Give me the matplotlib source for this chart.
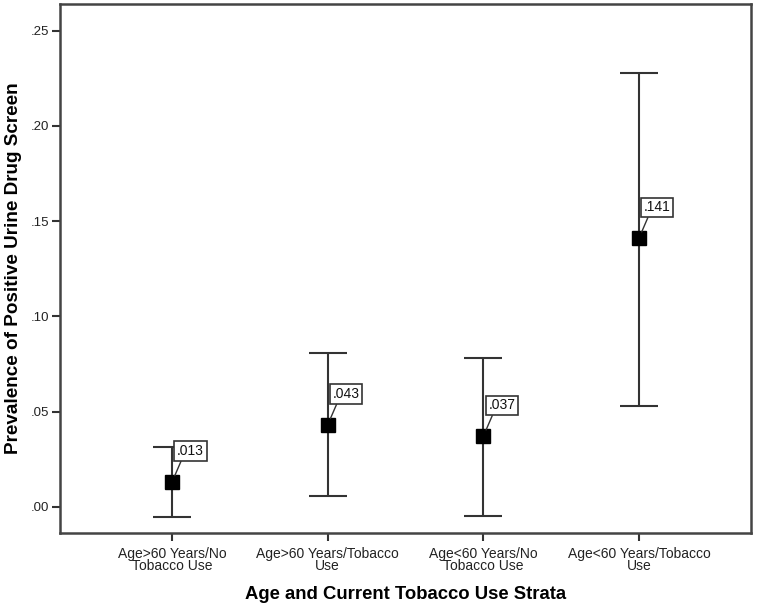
import numpy as np
import matplotlib
matplotlib.use("Agg")
import matplotlib.pyplot as plt

plt.rcParams['font.family'] = ['Liberation Sans', 'DejaVu Sans']

# strata, prevalence and 95% CI
strata = ["Age>60 Years/No\nTobacco Use", "Age>60 Years/Tobacco\nUse",
          "Age<60 Years/No\nTobacco Use", "Age<60 Years/Tobacco\nUse"]
prevalence = [0.013, 0.043, 0.037, 0.141]
ci_low = [-0.0054, 0.0055, -0.0050, 0.0529]
ci_high = [0.0314, 0.0806, 0.0780, 0.2280]
labels = [".013", ".043", ".037", ".141"]
yticks = [0.00, 0.05, 0.10, 0.15, 0.20, 0.25]
ytick_labels = [".00", ".05", ".10", ".15", ".20", ".25"]

W, H = 757, 607
fig = plt.figure(figsize=(W / 100, H / 100), dpi=100)
ax = fig.add_axes([60 / W, (H - 533) / H, (751 - 60) / W, (533 - 4.3) / H])

x = np.arange(len(strata))
prevalence = np.array(prevalence)
yerr = [prevalence - np.array(ci_low), np.array(ci_high) - prevalence]

line_col = "#333333"
ax.errorbar(x, prevalence, yerr=yerr, fmt='none', ecolor=line_col,
            elinewidth=1.5, capsize=14, capthick=1.5, zorder=2)
ax.plot(x, prevalence, 's', color='black', markersize=9.5, zorder=3)

for xi, yi, lab in zip(x, prevalence, labels):
    ax.annotate(lab, xy=(xi, yi), xytext=(5, 24), textcoords='offset pixels',
                ha='left', va='bottom', fontsize=10, color='#111111',
                bbox=dict(boxstyle='square,pad=0.2', fc='white', ec=line_col, lw=1.2),
                arrowprops=dict(arrowstyle='-', color=line_col, lw=1.0,
                                relpos=(0.2, 0.0), shrinkA=0, shrinkB=5),
                zorder=4)

ax.set_xlim(-0.72, 3.72)
ax.set_ylim(-0.0138, 0.2639)
ax.set_xticks(x)
ax.set_xticklabels(strata, fontsize=10, linespacing=0.85, color='#222222')
ax.set_yticks(yticks)
ax.set_yticklabels(ytick_labels, fontsize=9.5, color='#222222')
ax.tick_params(axis='x', length=6, width=1.5, color=line_col, pad=4)
ax.tick_params(axis='y', length=6, width=1.5, color=line_col, pad=2)

for side in ax.spines.values():
    side.set_linewidth(1.8)
    side.set_color("#444444")

ax.set_xlabel("Age and Current Tobacco Use Strata", fontsize=13.3, fontweight='bold', labelpad=9)
ax.set_ylabel("Prevalence of Positive Urine Drug Screen", fontsize=13.6, fontweight='bold', labelpad=6)

fig.savefig("out.png", dpi=100)
